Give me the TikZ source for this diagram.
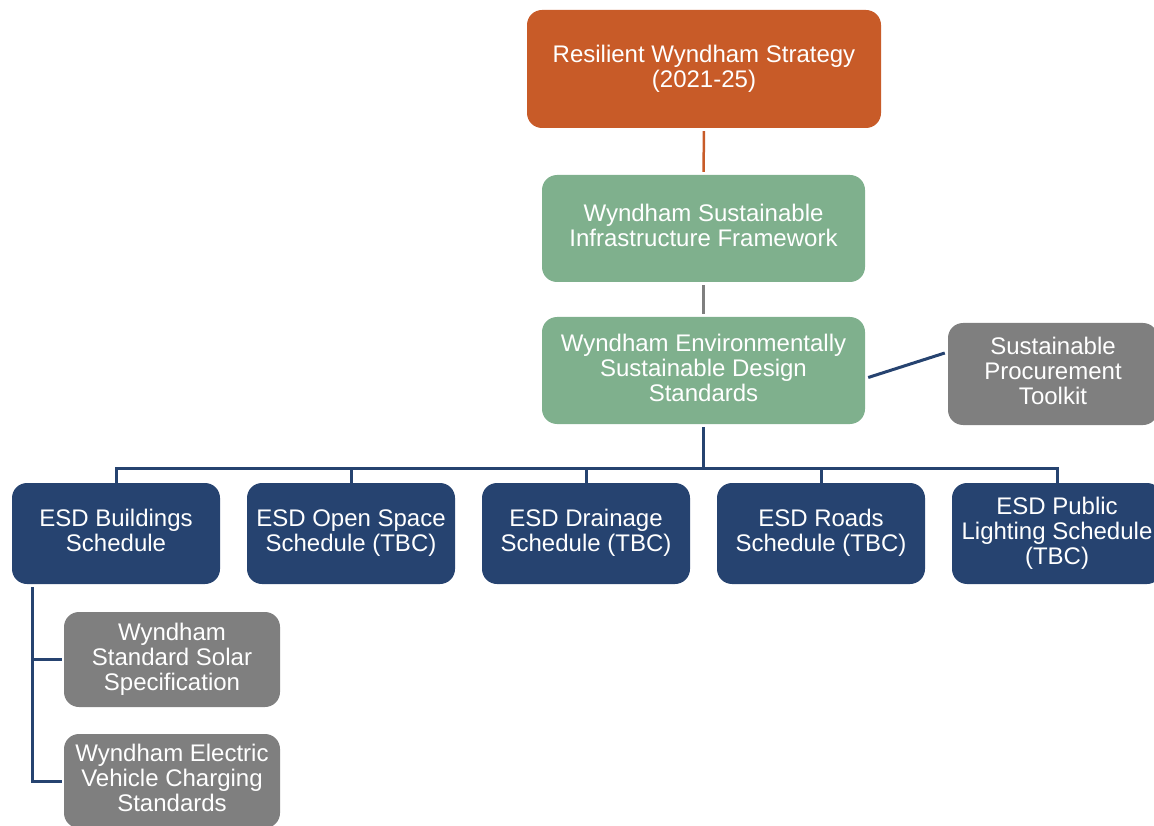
\documentclass[tikz,border=0pt]{standalone}
\usepackage{fontspec}
\setmainfont{Liberation Sans}
\definecolor{orng}{HTML}{C85B28}
\definecolor{grn}{HTML}{7FB08D}
\definecolor{blu}{HTML}{264370}
\definecolor{gry}{HTML}{7F7F7F}
\newcommand\lnstrut{\rule[-6pt]{0pt}{25pt}}
\begin{document}
\begin{tikzpicture}[x=1pt,y=-1pt,
  box/.style={rounded corners=15pt, text=white, align=center, inner sep=0pt,
    font=\fontsize{24}{25}\selectfont,
    execute at begin node={\lnstrut}, execute at end node={\lnstrut}},
  obox/.style={box, fill=orng},
  gbox/.style={box, fill=grn},
  bbox/.style={box, fill=blu},
  ybox/.style={box, fill=gry},
  bl/.style={draw=blu, line width=3pt},
  ol/.style={draw=orng, line width=2.5pt},
  gl/.style={draw=gry, line width=2.5pt}]
\useasboundingbox (0,0) rectangle (1154,826);
\clip (0,0) rectangle (1154,826);

\node[obox, minimum width=354pt, minimum height=118pt] (rws) at (704,69) {Resilient Wyndham Strategy\\(2021-25)};
\node[gbox, minimum width=323pt, minimum height=107pt] (sif) at (703.5,228.5) {Wyndham Sustainable\\Infrastructure Framework};
\node[gbox, minimum width=323pt, minimum height=107pt] (esds) at (703.5,370.5) {Wyndham Environmentally\\Sustainable Design\\Standards};
\node[ybox, minimum width=210pt, minimum height=102pt] (spt) at (1053,374) {Sustainable\\Procurement\\Toolkit};

\node[bbox, minimum width=208pt, minimum height=101pt] (b1) at (116,533.5) {ESD Buildings\\Schedule};
\node[bbox, minimum width=208pt, minimum height=101pt] (b2) at (351,533.5) {ESD Open Space\\Schedule (TBC)};
\node[bbox, minimum width=208pt, minimum height=101pt] (b3) at (586,533.5) {ESD Drainage\\Schedule (TBC)};
\node[bbox, minimum width=208pt, minimum height=101pt] (b4) at (821,533.5) {ESD Roads\\Schedule (TBC)};
\node[bbox, minimum width=210pt, minimum height=101pt] (b5) at (1057,533.5) {ESD Public\\Lighting Schedule\\(TBC)};

\node[ybox, minimum width=216pt, minimum height=95pt] (ga) at (172,659.5) {Wyndham\\Standard Solar\\Specification};
\node[ybox, minimum width=216pt, minimum height=94pt] (gb) at (172,781) {Wyndham Electric\\Vehicle Charging\\Standards};

\draw[ol, shorten <=3pt, shorten >=3pt] (rws.south) -- (sif.north);
\draw[gl, shorten <=3pt, shorten >=3pt] (sif.south) -- (esds.north);
\draw[bl] ([shift={(3,7)}]esds.east) -- ([shift={(-3,-21)}]spt.west);

\coordinate (bus) at (0,468.5);
\draw[bl, shorten <=3pt] (esds.south) -- (esds.south |- bus);
\draw[bl] (b1.north) -- (b1.north |- bus) -- (b5.north |- bus) -- (b5.north);
\draw[bl] (b2.north) -- (b2.north |- bus);
\draw[bl] (b3.north) -- (b3.north |- bus);
\draw[bl] (b4.north) -- (b4.north |- bus);

\coordinate (st) at ([shift={(-84,3)}]b1.south);
\draw[bl, shorten >=2pt] (st) |- (gb.west);
\draw[bl, shorten >=2pt] (st |- ga.west) -- (ga.west);
\end{tikzpicture}
\end{document}
